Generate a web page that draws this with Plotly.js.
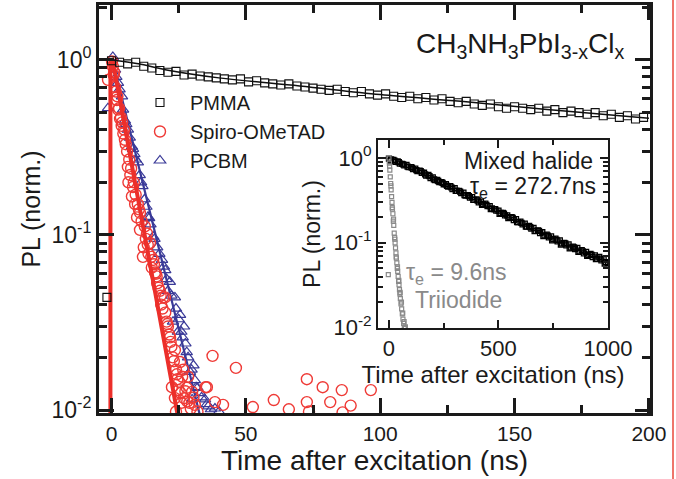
<!DOCTYPE html>
<html>
<head>
<meta charset="utf-8">
<script src="https://cdn.plot.ly/plotly-3.0.1.min.js"></script>
<style>html,body{margin:0;padding:0;background:#fff;}#chart{width:676px;height:479px;}</style>
</head>
<body>
<div id="chart"></div>
<script>
// ---------- Main panel data (time in ns, PL normalized) ----------
const pmmaT = [-1.7,0,3,6,9,12,15,18,21,24,27,30,33,36,39,42,45,48,51,54,57,60,63,66,69,72,75,78,81,84,87,90,93,96,99,102,105,108,111,114,117,120,123,126,129,132,135,138,141,144,147,150,153,156,159,162,165,168,171,174,177,180,183,186,189,192,195,198];
const pmmaY = [0.044,0.99,0.97,0.95,0.97,0.92,0.90,0.87,0.85,0.86,0.82,0.83,0.81,0.80,0.79,0.78,0.77,0.78,0.75,0.76,0.74,0.73,0.72,0.73,0.71,0.70,0.69,0.68,0.67,0.68,0.66,0.65,0.66,0.64,0.63,0.64,0.62,0.61,0.62,0.60,0.61,0.59,0.60,0.58,0.57,0.58,0.56,0.55,0.56,0.54,0.53,0.54,0.53,0.52,0.53,0.51,0.52,0.50,0.51,0.50,0.49,0.50,0.48,0.49,0.47,0.48,0.46,0.47];
const pmmaFitT = [0,10,20,40,70,100,130,160,200];
const pmmaFitY = [1.0,0.95,0.88,0.79,0.71,0.635,0.58,0.525,0.465];

const spiroT = [-1.3,0.2,0.5,0.8,1,1.3,1.6,2,2.2,2.5,2.8,3.2,3.5,3.8,4.0,4.4,4.7,5,5.3,5.8,6.1,6.3,6.6,7,7.3,7.6,8,8.3,8.8,9.0,9.5,9.8,10.2,10.6,10.6,11.2,11.7,12,12.4,12.8,13.2,13.5,13.8,14.3,14.8,15,15.5,15.8,16.2,16.5,16.8,17,17.5,18,18.3,18.5,19,19.2,19.9,20,20.5,20.8,21,21.5,21.8,22,22.3,22.5,22.8,23.2,23.6,23.6,24,24,24.3,24.5,25,25.2,25.5,25.8,26,26.3,26.7,27,27.5,28,28.2,28.5,29,29.5,30,30.5,31,32,35,35.5,37.6,38.5,41.5,46.3,52.6,60.4,66,72.7,72.7,73.5,78.6,81.4,85.7,86,89,96.5];
const spiroY = [0.77,0.98,0.92,0.82,0.85,0.70,0.66,0.59,0.62,0.52,0.53,0.46,0.47,0.42,0.44,0.38,0.40,0.35,0.33,0.30,0.245,0.20,0.27,0.22,0.24,0.166,0.188,0.20,0.15,0.17,0.126,0.15,0.14,0.134,0.107,0.12,0.075,0.085,0.112,0.095,0.102,0.088,0.078,0.09,0.075,0.065,0.072,0.068,0.061,0.06,0.058,0.053,0.05,0.048,0.045,0.040,0.038,0.044,0.044,0.036,0.032,0.031,0.030,0.027,0.026,0.0245,0.023,0.0135,0.020,0.019,0.022,0.0117,0.017,0.0098,0.016,0.015,0.013,0.0145,0.0188,0.0125,0.011,0.0155,0.017,0.0117,0.0128,0.0134,0.0112,0.0155,0.011,0.0102,0.0127,0.0118,0.0107,0.0098,0.0135,0.0135,0.0204,0.0111,0.0107,0.0174,0.0104,0.0114,0.0101,0.0111,0.015,0.0098,0.0135,0.0111,0.013,0.0097,0.0106,0.013];
const spiroFitT = [-0.4,-0.4,0.4,24.6];
const spiroFitY = [0.008,0.98,1.0,0.0094];

const pcbmT = [-1.3,0.5,1.3,1.8,2.4,3,3.9,4.3,5,5.5,6.1,6.8,7.6,8,8.5,9,9.8,10.5,11,11.5,12.3,13,13.6,14,14.5,15.5,16,17,17.8,18.8,19.5,20,20.5,21,21.7,22.3,22.9,23.6,24,24.7,25,25.5,26,26.5,27,27.5,28,28.5,29.2,29.8,30,30.5,31,31.5,32,33,33.5,34.8,35.5,36,37,38.5,40];
const pcbmY = [0.53,1.04,0.88,0.80,0.74,0.68,0.62,0.52,0.45,0.43,0.40,0.36,0.32,0.31,0.29,0.27,0.26,0.22,0.20,0.19,0.16,0.145,0.127,0.125,0.115,0.098,0.095,0.085,0.078,0.072,0.066,0.063,0.056,0.048,0.054,0.045,0.032,0.044,0.038,0.028,0.033,0.035,0.028,0.026,0.030,0.024,0.0214,0.020,0.0165,0.017,0.0115,0.018,0.0148,0.0135,0.0134,0.0125,0.0118,0.0115,0.0108,0.0105,0.0101,0.0102,0.0098];
const pcbmFitT = [0.4,33];
const pcbmFitY = [1.0,0.0092];

// ---------- Inset data ----------
const mixedT = [0,10,20,30,40,50,60,70,80,90,100,110,120,130,140,150,160,170,180,190,200,210,220,230,240,250,260,270,280,290,300,310,320,330,340,350,360,370,380,390,400,410,420,430,440,450,460,470,480,490,500,510,520,530,540,550,560,570,580,590,600,610,620,630,640,650,660,670,680,690,700,710,720,730,740,750,760,770,780,790,800,810,820,830,840,850,860,870,880,890,900,910,920,930,940,950,960,970,980,990,1000];
const mixedY = [0.98,0.96,0.95,0.90,0.91,0.86,0.85,0.82,0.83,0.78,0.78,0.74,0.75,0.70,0.71,0.67,0.67,0.62,0.63,0.58,0.59,0.55,0.55,0.52,0.52,0.49,0.49,0.46,0.465,0.43,0.44,0.41,0.41,0.385,0.39,0.36,0.365,0.34,0.345,0.32,0.325,0.30,0.305,0.285,0.29,0.27,0.27,0.255,0.25,0.24,0.24,0.225,0.225,0.21,0.21,0.20,0.20,0.185,0.19,0.175,0.178,0.165,0.168,0.155,0.158,0.147,0.15,0.138,0.14,0.13,0.133,0.122,0.125,0.116,0.119,0.11,0.112,0.104,0.107,0.098,0.1,0.093,0.096,0.088,0.09,0.084,0.087,0.079,0.082,0.075,0.078,0.072,0.074,0.068,0.071,0.065,0.068,0.062,0.064,0.059,0.058];
const mixedT2 = [5,25,45,65,85,105,125,145,165,185,205,225,245,265,285,305,325,345,365,385,405,425,445,465,485,505,525,545,565,585,605,625,645,665,685,705,725,745,765,785,805,825,845,865,885,905,925,945,965,985];
const mixedY2 = [0.93,0.93,0.89,0.84,0.79,0.77,0.72,0.70,0.64,0.61,0.56,0.535,0.51,0.47,0.45,0.41,0.40,0.365,0.355,0.32,0.315,0.28,0.28,0.25,0.25,0.22,0.22,0.195,0.197,0.175,0.172,0.155,0.153,0.137,0.138,0.12,0.121,0.107,0.108,0.095,0.098,0.086,0.088,0.078,0.079,0.07,0.072,0.064,0.065,0.057];
const triT = [-3,0,2,3,4,6,8,9,10,12,14,15,16,18,20,21,22,24,26,27,28,30,32,33,34,36,38,39,40,42,44,45,46,48,50,51,52,55,57,58,61,63,64,67,69,70,73,75];
const triY = [0.042,1.0,0.87,0.80,0.72,0.60,0.50,0.47,0.42,0.35,0.30,0.26,0.25,0.22,0.18,0.19,0.16,0.13,0.115,0.11,0.10,0.087,0.076,0.068,0.066,0.058,0.05,0.052,0.046,0.04,0.035,0.036,0.032,0.028,0.025,0.026,0.022,0.019,0.02,0.0166,0.0145,0.0148,0.0126,0.0112,0.0118,0.0101,0.0098,0.0102];

// ---------- Tick labels ----------
const decadeVals = [1, 0.1, 0.01];
const decadeText = ['10<sup>0</sup>', '10<sup>-1</sup>', '10<sup>-2</sup>'];
const minorVals = [0.02,0.03,0.04,0.05,0.06,0.07,0.08,0.09,0.2,0.3,0.4,0.5,0.6,0.7,0.8,0.9,2];

// ---------- Layout helpers (pixel -> paper) ----------
const W = 676, H = 479, ML = 99, MR = 26, MT = 5, MB = 66;
const PW = W - ML - MR, PH = H - MT - MB;
const px = v => (v - ML) / PW;
const py = v => (H - MB - v) / PH;

const FONT = 'Liberation Sans, Arial, Helvetica, sans-serif';
const INK = '#1a1a1a';
const RED = '#ef3a36';
const BLUE = '#3a3a98';
const GRAY = '#8a8a8a';

const traces = [
  {x: pcbmT, y: pcbmY, type: 'scatter', mode: 'markers', name: 'PCBM', legendrank: 3,
   marker: {symbol: 'triangle-up-open', size: 10, color: BLUE, line: {width: 1.2, color: BLUE}}},
  {x: pcbmFitT, y: pcbmFitY, type: 'scatter', mode: 'lines', showlegend: false,
   line: {color: BLUE, width: 2.2}},
  {x: spiroT, y: spiroY, type: 'scatter', mode: 'markers', name: 'Spiro-OMeTAD', legendrank: 2,
   marker: {symbol: 'circle-open', size: 11, color: RED, line: {width: 1.4, color: RED}}},
  {x: spiroFitT, y: spiroFitY, type: 'scatter', mode: 'lines', showlegend: false,
   line: {color: '#ec2f2a', width: 4}},
  {x: pmmaT, y: pmmaY, type: 'scatter', mode: 'markers', name: 'PMMA', legendrank: 1,
   marker: {symbol: 'square-open', size: 8, color: '#111', line: {width: 1.1, color: '#111'}}},
  {x: pmmaFitT, y: pmmaFitY, type: 'scatter', mode: 'lines', showlegend: false,
   line: {color: '#111', width: 1.5, shape: 'spline'}},
  {x: mixedT, y: mixedY, xaxis: 'x2', yaxis: 'y2', type: 'scatter', mode: 'markers', showlegend: false,
   marker: {symbol: 'square-open', size: 5, color: '#000', line: {width: 1.3, color: '#000'}}},
  {x: mixedT2, y: mixedY2, xaxis: 'x2', yaxis: 'y2', type: 'scatter', mode: 'markers', showlegend: false,
   marker: {symbol: 'square-open', size: 5, color: '#000', line: {width: 1.3, color: '#000'}}},
  {x: triT, y: triY, xaxis: 'x2', yaxis: 'y2', type: 'scatter', mode: 'markers', showlegend: false,
   marker: {symbol: 'square-open', size: 4, color: GRAY, line: {width: 1.2, color: GRAY}}}
];

const axCommon = {
  showline: true, linecolor: INK, mirror: 'ticks', ticks: 'inside', tickcolor: INK,
  showgrid: false, zeroline: false, automargin: false
};

const layout = {
  width: W, height: H,
  margin: {l: ML, r: MR, t: MT, b: MB},
  paper_bgcolor: '#fff', plot_bgcolor: 'rgba(0,0,0,0)',
  font: {family: FONT, color: INK},
  showlegend: true,
  legend: {x: px(130), y: py(83), xanchor: 'left', yanchor: 'top', bgcolor: 'rgba(0,0,0,0)',
           font: {size: 20, family: FONT, color: INK}, itemwidth: 50, tracegroupgap: 0},
  xaxis: Object.assign({}, axCommon, {
    domain: [0, 1], range: [-4.65, 200.4], dtick: 50, tick0: 0,
    linewidth: 3, ticklen: 15, tickwidth: 3,
    minor: {dtick: 25, tick0: 0, ticks: 'inside', ticklen: 8, tickwidth: 3, tickcolor: INK},
    tickfont: {size: 21, family: FONT, color: INK},
    title: {text: 'Time after excitation (ns)', font: {size: 28, family: FONT, color: INK}, standoff: 3}
  }),
  yaxis: Object.assign({}, axCommon, {
    domain: [0, 1], type: 'log', range: [-2.017, 0.314],
    tickmode: 'array', tickvals: decadeVals, ticktext: decadeText,
    linewidth: 3, ticklen: 15, tickwidth: 3,
    minor: {tickmode: 'array', tickvals: minorVals, ticks: 'inside', ticklen: 8, tickwidth: 3, tickcolor: INK},
    tickfont: {size: 23, family: FONT, color: INK},
    title: {text: 'PL (norm.)', font: {size: 25, family: FONT, color: INK}, standoff: 4}
  }),
  xaxis2: Object.assign({}, axCommon, {
    domain: [px(378), px(608)], anchor: 'y2', range: [-50, 1000], dtick: 500, tick0: 0,
    linewidth: 2, ticklen: 8, tickwidth: 2,
    minor: {dtick: 250, tick0: 0, ticks: 'inside', ticklen: 5, tickwidth: 2, tickcolor: INK},
    tickfont: {size: 22, family: FONT, color: INK},
    title: {text: 'Time after excitation (ns)', font: {size: 24, family: FONT, color: INK}, standoff: 3}
  }),
  yaxis2: Object.assign({}, axCommon, {
    domain: [py(328), py(140)], anchor: 'x2', type: 'log', range: [-2.005, 0.212],
    tickmode: 'array', tickvals: decadeVals, ticktext: decadeText,
    linewidth: 2, ticklen: 8, tickwidth: 2,
    minor: {tickmode: 'array', tickvals: minorVals, ticks: 'inside', ticklen: 5, tickwidth: 2, tickcolor: INK},
    tickfont: {size: 22, family: FONT, color: INK},
    title: {text: 'PL (norm.)', font: {size: 23, family: FONT, color: INK}, standoff: 6}
  }),
  annotations: [
    {xref: 'paper', yref: 'paper', x: px(626), y: py(46), xanchor: 'right', yanchor: 'middle', showarrow: false,
     text: 'CH<sub>3</sub>NH<sub>3</sub>PbI<sub>3-x</sub>Cl<sub>x</sub>', font: {size: 28, family: FONT, color: INK}},
    {xref: 'paper', yref: 'paper', x: px(595), y: py(161), xanchor: 'right', yanchor: 'middle', showarrow: false,
     text: 'Mixed halide', font: {size: 23, family: FONT, color: INK}},
    {xref: 'paper', yref: 'paper', x: px(598), y: py(188), xanchor: 'right', yanchor: 'middle', showarrow: false,
     text: 'τ<sub>e</sub> = 272.7ns', font: {size: 23, family: FONT, color: INK}},
    {xref: 'paper', yref: 'paper', x: px(404), y: py(273), xanchor: 'left', yanchor: 'middle', showarrow: false,
     text: 'τ<sub>e</sub> = 9.6ns', font: {size: 23, family: FONT, color: GRAY}},
    {xref: 'paper', yref: 'paper', x: px(413), y: py(300), xanchor: 'left', yanchor: 'middle', showarrow: false,
     text: 'Triiodide', font: {size: 23, family: FONT, color: GRAY}}
  ],
  shapes: [
    {type: 'line', xref: 'paper', yref: 'paper', x0: px(673), x1: px(673), y0: py(479), y1: py(0),
     line: {color: '#e8473a', width: 1.5}}
  ]
};

Plotly.newPlot('chart', traces, layout, {displayModeBar: false, staticPlot: true});
</script>
</body>
</html>
